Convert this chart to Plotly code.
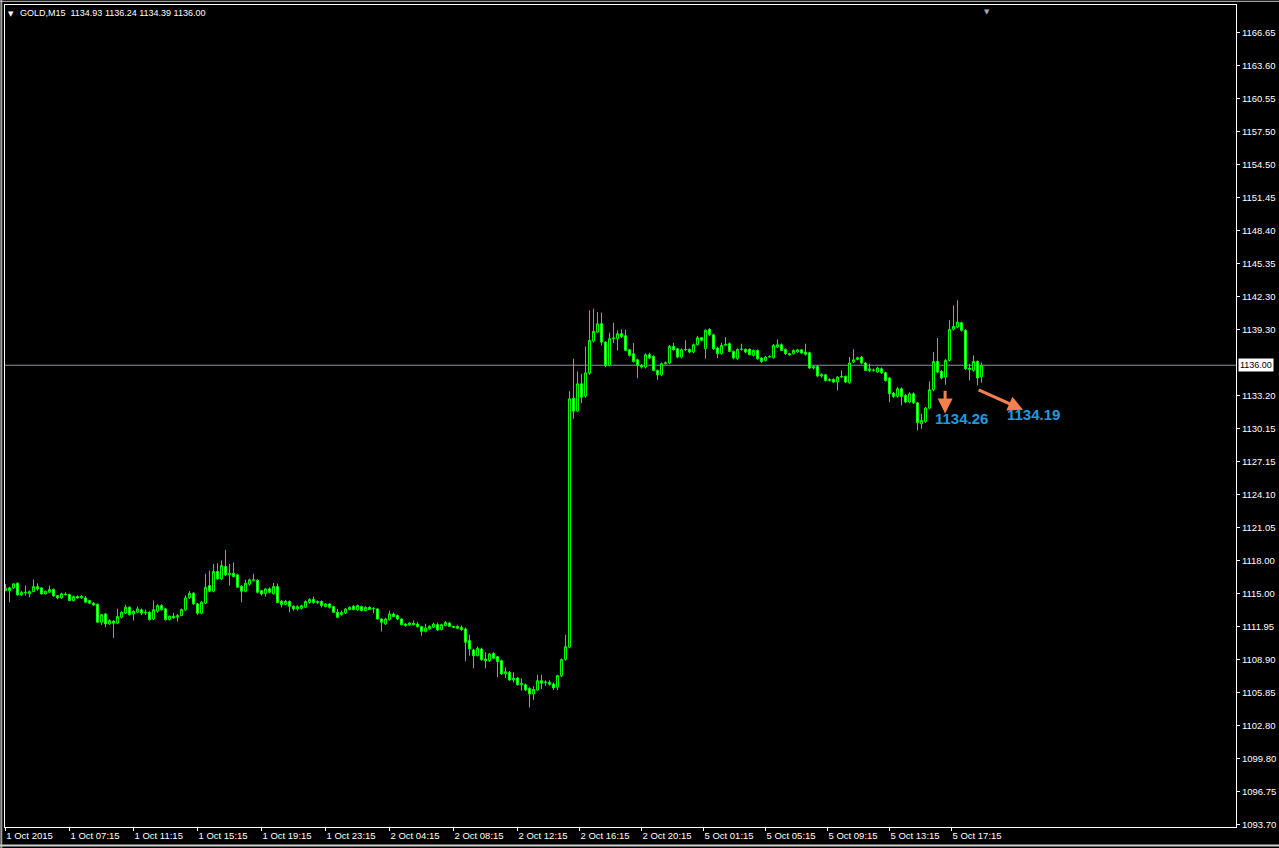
import plotly.graph_objects as go

# ---------------- data (GOLD, M15) ----------------
opens = [
 1115.25,1115.50,1115.50,1115.93,1114.86,1115.10,1114.95,1115.16,1115.62,1115.50,
 1114.95,1115.10,1115.35,1114.79,1114.58,1114.93,1114.89,1114.33,1114.70,1114.58,
 1114.58,1114.33,1114.09,1114.00,1112.34,1113.10,1112.18,1112.43,1112.25,1112.80,
 1113.17,1113.72,1113.10,1113.26,1113.48,1113.20,1113.26,1112.64,1113.35,1113.87,
 1113.57,1112.58,1112.89,1112.80,1112.95,1113.47,1114.58,1115.01,1114.03,1113.17,
 1114.09,1115.71,1115.19,1117.01,1116.33,1117.47,1116.70,1116.85,1116.70,1115.65,
 1115.19,1115.84,1116.24,1116.20,1115.25,1114.98,1115.41,1114.95,1115.62,1114.27,
 1113.97,1114.24,1113.81,1113.57,1113.62,1113.72,1114.15,1114.43,1114.15,1114.24,
 1113.78,1114.02,1113.78,1113.25,1113.04,1113.19,1113.50,1113.81,1113.47,1113.78,
 1113.41,1113.71,1113.62,1113.56,1112.64,1112.18,1112.58,1113.10,1112.95,1112.64,
 1112.18,1112.09,1112.24,1112.18,1111.93,1111.50,1111.72,1111.87,1112.12,1111.66,
 1112.03,1112.27,1111.96,1111.96,1111.87,1111.72,1110.65,1109.79,1109.26,1109.88,
 1108.96,1108.80,1109.48,1109.17,1108.80,1107.58,1107.73,1107.02,1107.20,1106.59,
 1106.59,1106.25,1105.73,1106.10,1106.96,1106.84,1106.81,1106.65,1106.35,1107.42,
 1108.90,1110.04,1132.96,1131.77,1134.29,1133.15,1135.27,1138.22,1139.05,1139.82,
 1138.13,1135.98,1138.44,1138.44,1138.90,1138.71,1137.42,1137.05,1136.50,1135.98,
 1135.83,1136.97,1136.81,1135.52,1135.12,1136.14,1136.20,1137.73,1137.52,1136.75,
 1137.42,1137.45,1137.21,1137.89,1138.53,1137.52,1139.30,1138.81,1137.58,1137.06,
 1137.83,1137.98,1137.27,1136.60,1137.46,1137.46,1137.46,1136.90,1137.36,1136.66,
 1136.44,1136.75,1136.69,1137.67,1137.89,1137.46,1137.06,1137.06,1137.21,1137.42,
 1137.21,1137.15,1135.74,1135.89,1135.00,1135.12,1134.60,1134.69,1134.45,1134.91,
 1134.97,1134.39,1136.29,1136.53,1136.75,1136.20,1135.52,1135.52,1135.37,1135.67,
 1135.31,1134.82,1133.43,1133.13,1133.83,1133.22,1132.61,1133.37,1132.54,1130.61,
 1130.82,1132.05,1133.74,1136.35,1135.43,1134.91,1136.44,1139.30,1139.51,1139.91,
 1139.21,1135.74,1135.52,1136.35,1134.93,
]
highs = [
 1115.87,1115.60,1115.95,1116.00,1115.20,1115.72,1115.25,1116.27,1115.93,1115.55,
 1115.25,1115.72,1115.45,1114.85,1115.05,1115.10,1114.95,1114.80,1114.80,1114.85,
 1114.75,1114.40,1114.20,1114.05,1113.10,1113.20,1112.60,1112.55,1113.57,1113.35,
 1113.95,1113.80,1113.45,1113.80,1113.60,1113.50,1113.35,1114.33,1114.00,1114.00,
 1113.65,1112.95,1113.20,1113.10,1113.60,1114.80,1115.20,1115.10,1114.10,1114.30,
 1116.79,1117.10,1117.71,1117.77,1118.02,1119.00,1117.71,1117.86,1116.80,1115.75,
 1116.24,1116.35,1116.79,1116.30,1115.30,1115.50,1115.55,1115.95,1115.90,1114.40,
 1114.40,1114.35,1113.90,1113.90,1113.95,1114.35,1114.55,1114.70,1114.35,1114.35,
 1114.10,1114.10,1113.85,1113.56,1113.41,1113.65,1113.80,1113.90,1113.95,1113.85,
 1113.80,1113.80,1113.71,1113.62,1112.70,1112.75,1113.40,1113.25,1113.05,1112.70,
 1112.25,1112.35,1112.50,1112.35,1112.00,1112.20,1112.05,1112.30,1112.30,1112.20,
 1112.45,1112.35,1112.00,1112.05,1112.05,1111.85,1111.20,1109.90,1110.10,1110.00,
 1109.57,1109.50,1109.55,1109.25,1108.90,1108.19,1107.85,1107.73,1107.30,1107.17,
 1106.70,1106.35,1106.45,1107.50,1107.51,1107.00,1107.00,1106.80,1107.50,1109.00,
 1111.20,1133.60,1136.60,1135.43,1135.21,1137.73,1141.04,1141.20,1140.89,1140.83,
 1138.20,1138.99,1139.91,1139.20,1139.30,1139.26,1137.50,1138.04,1136.60,1136.10,
 1137.10,1137.15,1136.90,1135.60,1136.25,1136.35,1137.85,1138.07,1137.60,1137.55,
 1138.29,1137.55,1138.00,1138.70,1138.60,1139.30,1139.40,1138.90,1137.70,1138.07,
 1138.59,1138.10,1137.35,1137.55,1137.98,1137.55,1137.55,1137.45,1137.45,1136.75,
 1136.85,1136.90,1137.95,1138.38,1138.00,1137.55,1137.15,1137.45,1137.50,1137.50,
 1137.98,1137.25,1136.00,1136.00,1135.25,1135.20,1134.80,1134.80,1135.00,1135.52,
 1135.05,1136.75,1137.46,1136.80,1136.85,1136.30,1136.14,1135.70,1135.85,1135.80,
 1135.40,1134.90,1133.55,1134.00,1133.95,1133.35,1133.50,1133.50,1132.60,1131.53,
 1132.15,1134.51,1137.21,1138.50,1135.55,1136.55,1140.13,1141.51,1141.97,1140.00,
 1139.30,1136.14,1136.90,1136.45,1136.24,
]
lows = [
 1115.20,1114.18,1115.40,1114.80,1114.75,1114.79,1114.64,1115.10,1115.25,1114.90,
 1114.88,1115.05,1114.70,1114.45,1114.50,1114.80,1114.28,1114.25,1114.50,1114.50,
 1114.10,1114.00,1113.85,1112.30,1112.10,1111.88,1112.10,1110.90,1112.20,1112.70,
 1113.10,1112.95,1112.50,1113.20,1113.00,1113.00,1112.50,1112.55,1113.20,1113.40,
 1112.50,1112.50,1112.65,1112.40,1112.90,1113.40,1114.50,1113.95,1113.00,1113.10,
 1114.00,1115.10,1115.10,1116.25,1116.20,1116.60,1115.72,1116.45,1115.50,1114.18,
 1115.10,1115.70,1116.10,1115.00,1114.80,1114.70,1115.00,1114.90,1114.10,1113.70,
 1113.90,1113.26,1113.40,1113.40,1113.50,1113.65,1114.05,1114.05,1114.00,1113.70,
 1113.70,1113.60,1113.20,1112.70,1112.95,1113.10,1113.45,1113.45,1113.40,1113.35,
 1113.35,1113.45,1113.16,1112.60,1111.50,1112.10,1112.50,1112.80,1112.55,1112.05,
 1111.95,1112.00,1112.05,1111.85,1111.10,1111.40,1111.65,1111.80,1111.55,1111.60,
 1111.95,1111.90,1111.80,1111.70,1111.55,1108.74,1109.26,1108.10,1109.20,1108.80,
 1108.10,1108.70,1108.95,1107.27,1107.50,1107.21,1106.95,1106.80,1106.50,1106.04,
 1106.00,1104.50,1105.20,1106.00,1106.19,1106.50,1106.50,1106.10,1106.10,1107.30,
 1108.80,1109.95,1131.07,1131.70,1132.51,1133.00,1135.10,1138.10,1138.95,1137.82,
 1135.82,1135.90,1138.04,1137.36,1138.50,1137.30,1136.80,1136.25,1134.81,1135.70,
 1135.70,1136.55,1135.45,1134.66,1135.00,1136.05,1136.10,1137.35,1136.65,1136.65,
 1137.30,1137.10,1137.10,1137.80,1138.20,1136.60,1138.70,1137.40,1136.66,1137.00,
 1137.75,1137.20,1136.55,1136.50,1137.35,1137.10,1136.90,1136.80,1136.50,1136.20,
 1136.35,1136.70,1136.60,1137.60,1137.30,1136.95,1136.90,1137.00,1137.15,1137.05,
 1136.90,1135.65,1135.60,1134.90,1134.85,1134.50,1134.50,1134.35,1133.68,1134.80,
 1134.35,1134.30,1136.20,1136.45,1136.10,1135.45,1135.37,1135.40,1135.30,1135.20,
 1134.50,1132.60,1133.00,1133.00,1132.30,1132.50,1132.50,1132.45,1129.99,1130.15,
 1130.70,1131.95,1133.60,1135.25,1134.70,1134.20,1136.35,1139.20,1139.40,1139.10,
 1135.55,1134.60,1135.40,1134.14,1134.39,
]
closes = [
 1115.47,1115.25,1115.87,1114.86,1115.10,1115.05,1115.16,1115.62,1115.41,1114.95,
 1115.19,1115.35,1114.76,1114.58,1114.95,1114.89,1114.33,1114.70,1114.58,1114.73,
 1114.18,1114.09,1113.93,1112.34,1113.04,1112.18,1112.49,1112.25,1112.86,1113.26,
 1113.72,1113.05,1113.35,1113.57,1113.17,1113.26,1112.58,1113.50,1113.87,1113.50,
 1112.58,1112.89,1112.74,1112.95,1113.50,1114.58,1115.01,1114.03,1113.17,1114.18,
 1115.56,1115.19,1117.01,1116.33,1117.56,1116.70,1116.85,1116.55,1115.56,1115.19,
 1115.93,1116.24,1116.20,1115.10,1114.95,1115.41,1115.10,1115.62,1114.15,1113.97,
 1114.27,1113.81,1113.57,1113.78,1113.87,1114.24,1114.43,1114.15,1114.24,1113.87,
 1114.02,1113.71,1113.25,1112.79,1113.25,1113.56,1113.71,1113.50,1113.87,1113.41,
 1113.71,1113.50,1113.60,1112.64,1112.33,1112.64,1113.10,1112.86,1112.64,1112.12,
 1112.03,1112.27,1112.12,1111.93,1111.50,1111.81,1111.96,1112.18,1111.63,1112.12,
 1112.33,1111.96,1111.87,1111.78,1111.66,1110.49,1109.88,1109.26,1109.94,1108.90,
 1108.80,1109.42,1109.02,1108.71,1107.58,1107.79,1107.02,1107.17,1106.59,1106.71,
 1106.10,1105.73,1106.16,1106.96,1106.72,1106.81,1106.62,1106.29,1107.42,1108.90,
 1110.09,1132.91,1131.77,1134.29,1133.06,1135.30,1138.28,1139.11,1139.82,1138.13,
 1135.98,1138.44,1138.50,1138.90,1138.65,1137.36,1136.90,1136.35,1135.98,1135.83,
 1136.96,1136.66,1135.52,1135.12,1136.14,1136.23,1137.73,1137.42,1136.75,1137.42,
 1137.45,1137.21,1137.89,1138.53,1138.29,1139.21,1138.81,1137.52,1137.06,1137.83,
 1137.92,1137.27,1136.66,1137.46,1137.48,1137.21,1136.97,1137.36,1136.60,1136.35,
 1136.75,1136.81,1137.83,1137.89,1137.36,1137.06,1136.97,1137.36,1137.42,1137.12,
 1137.00,1135.74,1135.89,1135.00,1135.15,1134.60,1134.69,1134.45,1134.91,1134.97,
 1134.45,1136.20,1136.50,1136.69,1136.20,1135.52,1135.67,1135.55,1135.74,1135.31,
 1134.60,1133.37,1133.13,1133.83,1133.13,1132.61,1133.37,1132.54,1130.70,1130.92,
 1132.05,1133.74,1136.35,1135.37,1134.82,1136.44,1139.30,1139.57,1139.97,1139.21,
 1135.68,1135.62,1136.35,1134.82,1136.00,
]
bars = list(range(len(closes)))

time_tick_bars = [-0.05, 16, 32, 48, 64, 80, 96, 112, 128, 143.5, 159, 174.5, 190, 205.5, 221, 236.5]
time_tick_labels = ["1 Oct 2015", "1 Oct 07:15", "1 Oct 11:15", "1 Oct 15:15", "1 Oct 19:15",
                    "1 Oct 23:15", "2 Oct 04:15", "2 Oct 08:15", "2 Oct 12:15", "2 Oct 16:15",
                    "2 Oct 20:15", "5 Oct 01:15", "5 Oct 05:15", "5 Oct 09:15", "5 Oct 13:15",
                    "5 Oct 17:15"]
price_ticks = [1166.65, 1163.60, 1160.55, 1157.50, 1154.50, 1151.45, 1148.40, 1145.35, 1142.30,
               1139.30, 1133.20, 1130.15, 1127.15, 1124.10, 1121.05, 1118.00, 1115.00, 1111.95,
               1108.90, 1105.85, 1102.80, 1099.80, 1096.75, 1093.70]
current_price = 1136.00
header_text = "GOLD,M15\u00a0\u00a01134.93 1136.24 1134.39 1136.00"

# manual annotations: (label, x_bar, price) and arrows (tail_bar, tail_price, tip_bar, tip_price)
note_labels = ["1134.26", "1134.19"]
note_x = [239.1, 257.1]
note_y = [1131.05, 1131.45]
arrow_tail_x = [234.9, 242.9]
arrow_tail_y = [1133.78, 1133.78]
arrow_tip_x = [234.9, 254.4]
arrow_tip_y = [1131.55, 1131.90]

GREEN = "#00FF00"
FONT = "Liberation Sans"

fig = go.Figure()
fig.add_trace(go.Candlestick(
    x=bars, open=opens, high=highs, low=lows, close=closes,
    increasing=dict(line=dict(color=GREEN, width=1), fillcolor="#000000"),
    decreasing=dict(line=dict(color=GREEN, width=1), fillcolor="#FFFFFF"),
    whiskerwidth=0, hoverinfo="skip", showlegend=False,
))

# current bid line
fig.add_shape(type="line", xref="paper", x0=0, x1=1, yref="y", y0=current_price, y1=current_price,
              line=dict(color="#8A96A3", width=1), layer="below")

# window frame bits
fig.add_shape(type="line", xref="paper", yref="paper", x0=-0.003, x1=-0.003, y0=-0.03, y1=1.01,
              line=dict(color="#A0A0A0", width=2))
fig.add_shape(type="line", xref="paper", yref="paper", x0=-0.004, x1=1.04, y0=1.0045, y1=1.0045,
              line=dict(color="#C8C8C8", width=1))
fig.add_shape(type="line", xref="paper", yref="paper", x0=-0.004, x1=1.04, y0=-0.0225, y1=-0.0225,
              line=dict(color="#D0D0D0", width=2))

annotations = [
    dict(xref="paper", yref="paper", x=0, y=1, xanchor="left", yanchor="top", xshift=1, yshift=-3,
         text="\u25BC", showarrow=False, font=dict(color="white", size=7, family="DejaVu Sans")),
    dict(xref="paper", yref="paper", x=0, y=1, xanchor="left", yanchor="top", xshift=13, yshift=-1,
         text=header_text, showarrow=False, font=dict(color="white", size=9, family=FONT)),
    dict(xref="paper", yref="paper", x=0.7977, y=1, xanchor="center", yanchor="top", yshift=-1,
         text="\u25BC", showarrow=False, font=dict(color="#A8A8A8", size=7, family="DejaVu Sans")),
    dict(xref="paper", yref="y", x=1, y=current_price, xanchor="left", yanchor="middle", xshift=2,
         text="1136.00", showarrow=False, bgcolor="white", borderpad=1,
         font=dict(color="black", size=9, family=FONT)),
]
for lab, xx, yy in zip(note_labels, note_x, note_y):
    annotations.append(dict(x=xx, y=yy, xref="x", yref="y", text=lab, showarrow=False,
                            font=dict(color="#1E9BE0", size=15, family="Liberation Sans", weight="bold")))
for tx, ty, hx, hy in zip(arrow_tail_x, arrow_tail_y, arrow_tip_x, arrow_tip_y):
    annotations.append(dict(x=hx, y=hy, ax=tx, ay=ty, xref="x", yref="y", axref="x", ayref="y",
                            text="", showarrow=True, arrowhead=2, arrowsize=1, arrowwidth=3,
                            arrowcolor="#F4804F"))

fig.update_layout(
    width=1279, height=848,
    margin=dict(l=5, r=43, t=5, b=21, autoexpand=False),
    paper_bgcolor="#000000", plot_bgcolor="#000000",
    boxgap=0.3,
    hovermode=False,
    annotations=annotations,
    xaxis=dict(
        range=[-0.125, 307.625], showgrid=False, zeroline=False,
        rangeslider=dict(visible=False),
        tickmode="array", tickvals=time_tick_bars, ticktext=time_tick_labels,
        ticks="outside", ticklen=3, tickcolor="white", ticklabelposition="outside right",
        tickfont=dict(color="white", size=9.5, family=FONT),
        showline=True, linecolor="white", linewidth=1, mirror=True,
    ),
    yaxis=dict(
        side="right", range=[1093.49, 1169.16], showgrid=False, zeroline=False,
        tickmode="array", tickvals=price_ticks, ticktext=[f"{v:.2f}" for v in price_ticks],
        ticks="outside", ticklen=3, tickcolor="white",
        tickfont=dict(color="white", size=9.5, family=FONT),
        showline=True, linecolor="white", linewidth=1, mirror=True,
    ),
)

fig.write_html("out.html", config={"displayModeBar": False},
               post_script="document.body.style.margin='0';document.body.style.overflow='hidden';")
